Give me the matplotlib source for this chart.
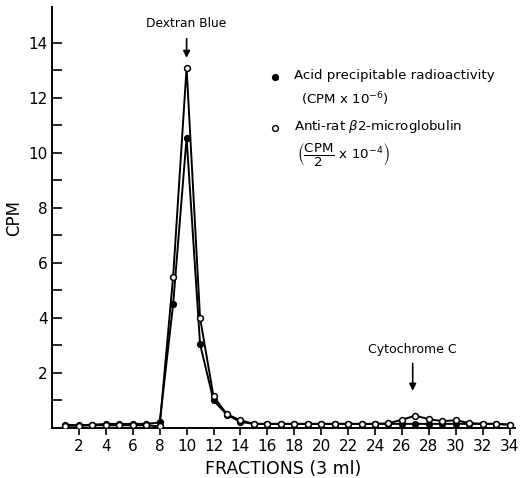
import matplotlib
matplotlib.use("Agg")
import matplotlib.pyplot as plt

# Fractions 1..34
fractions = list(range(1, 35))

# Acid precipitable radioactivity (CPM x 10^-6), filled circles
acid_precip = [0.12, 0.10, 0.12, 0.15, 0.15, 0.15, 0.15, 0.20, 4.5, 10.55, 3.05, 1.0,
               0.48, 0.22, 0.15, 0.15, 0.15, 0.15, 0.15, 0.15, 0.15, 0.15, 0.15, 0.15,
               0.15, 0.15, 0.15, 0.15, 0.15, 0.15, 0.15, 0.15, 0.15, 0.12]

# Anti-rat beta2-microglobulin (CPM/2 x 10^-4), open circles
anti_b2m = [0.08, 0.08, 0.10, 0.10, 0.10, 0.10, 0.10, 0.06, 5.5, 13.1, 4.0, 1.15,
            0.50, 0.28, 0.15, 0.15, 0.15, 0.15, 0.15, 0.15, 0.15, 0.15, 0.15, 0.15,
            0.17, 0.30, 0.45, 0.32, 0.25, 0.28, 0.18, 0.15, 0.15, 0.12]

x_ticks = list(range(2, 35, 2))
y_ticks = list(range(2, 15, 2))
y_minor = [1, 3, 5, 7, 9, 11, 13]

plt.rcParams['font.family'] = ['DejaVu Sans']

fig = plt.figure(figsize=(5.2, 4.78), dpi=100)
ax = fig.add_axes([52 / 520, 1 - 428 / 478, 463 / 520, 421 / 478])

ax.plot(fractions, acid_precip, color="black", lw=1.4, marker="o", ms=4.2,
        mfc="black", mec="black", zorder=3)
ax.plot(fractions, anti_b2m, color="black", lw=1.4, marker="o", ms=4.2,
        mfc="white", mec="black", mew=1.1, zorder=4)

ax.set_xlim(0, 34.4)
ax.set_ylim(0, 15.3)
ax.spines["top"].set_visible(False)
ax.spines["right"].set_visible(False)
ax.spines["left"].set_linewidth(1.4)
ax.spines["bottom"].set_linewidth(1.4)

ax.set_xticks(x_ticks)
ax.set_xticklabels([str(v) for v in x_ticks], fontsize=11)
ax.set_yticks(y_ticks)
ax.set_yticklabels([str(v) for v in y_ticks], fontsize=11)
ax.set_yticks(y_minor, minor=True)
ax.tick_params(axis="y", which="both", direction="in", length=7, width=1.2, pad=3)
ax.tick_params(axis="x", direction="out", length=5, width=1.2, pad=3)

ax.set_xlabel("FRACTIONS (3 ml)", fontsize=12.5, labelpad=4)
ax.set_ylabel("CPM", fontsize=12, labelpad=4)

# Arrows marking the calibration peaks
ax.annotate("", xy=(10, 13.35), xytext=(10, 14.25),
            arrowprops=dict(arrowstyle="-|>", color="black", lw=1.2, mutation_scale=10))
ax.text(10, 14.45, "Dextran Blue", ha="center", va="bottom", fontsize=8.8)
ax.annotate("", xy=(26.8, 1.25), xytext=(26.8, 2.45),
            arrowprops=dict(arrowstyle="-|>", color="black", lw=1.2, mutation_scale=10))
ax.text(26.8, 2.6, "Cytochrome C", ha="center", va="bottom", fontsize=9)

# Legend drawn as text
ax.plot([16.55], [12.75], marker="o", ms=4.2, color="black", clip_on=False)
ax.text(18.0, 12.8, "Acid precipitable radioactivity", fontsize=9.6, va="center")
ax.text(18.5, 11.95, r"(CPM x 10$^{-6}$)", fontsize=9.6, va="center")
ax.plot([16.55], [10.9], marker="o", ms=4.2, mfc="white", mec="black", clip_on=False)
ax.text(18.0, 10.95, r"Anti-rat $\beta$2-microglobulin", fontsize=9.6, va="center")
ax.text(18.2, 9.9, r"$\left(\dfrac{\mathrm{CPM}}{2}\ \mathrm{x}\ 10^{-4}\right)$",
        fontsize=9.6, va="center")

fig.savefig("out.png", dpi=100)
